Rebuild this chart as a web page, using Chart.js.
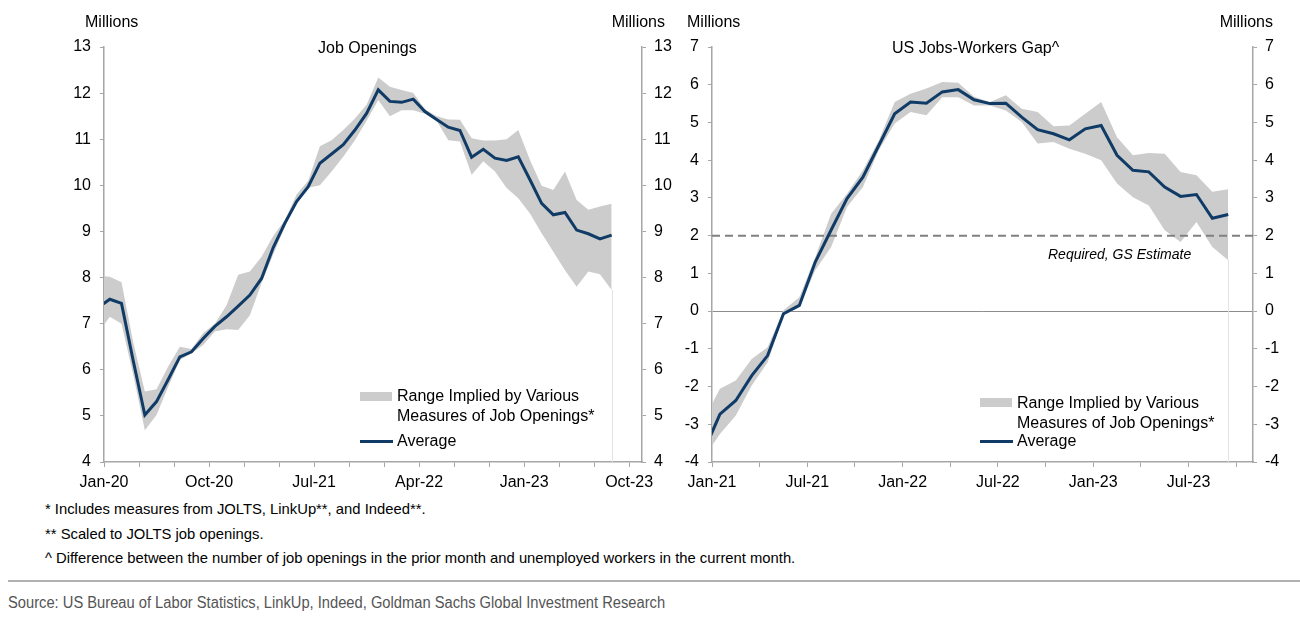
<!DOCTYPE html>
<html><head><meta charset="utf-8">
<script src="https://cdn.jsdelivr.net/npm/chart.js@4.4.0/dist/chart.umd.min.js"></script>
<style>
html,body{margin:0;padding:0;background:#fff;width:1300px;height:623px;overflow:hidden;font-family:"Liberation Sans",Arial,sans-serif;color:#000}
.t{position:absolute;white-space:nowrap;font-size:16px;height:18px;line-height:18px}
canvas{position:absolute;top:0}
.sw{position:absolute;background:#cccccc}
.ln{position:absolute;background:#0f3b66;height:3px}
.fn{position:absolute;white-space:nowrap;font-family:"Liberation Sans",Arial,sans-serif;font-size:14.8px;color:#000;height:18px;line-height:18px}
.src{position:absolute;white-space:nowrap;font-family:"Liberation Sans",Arial,sans-serif;font-size:16px;color:#555;height:20px;line-height:20px;transform-origin:0 50%}
.sep{position:absolute;left:8px;width:1292px;top:580px;height:2px;background:#b0b0b0}
</style></head>
<body>
<canvas id="c1" width="700" height="500" style="left:0"></canvas>
<canvas id="c2" width="640" height="500" style="left:660px"></canvas>

<div class="t" style="left:85px;top:13px">Millions</div>
<div class="t" style="right:635px;top:13px">Millions</div>
<div class="t" style="left:318px;top:39px">Job Openings</div>
<div class="t" style="left:687px;top:13px">Millions</div>
<div class="t" style="right:27px;top:13px">Millions</div>
<div class="t" style="left:892px;top:39px">US Jobs-Workers Gap^</div>

<div class="sw" style="left:360px;top:392px;width:32px;height:9px"></div>
<div class="t" style="left:397px;top:387px">Range Implied by Various</div>
<div class="t" style="left:397px;top:407px">Measures of Job Openings*</div>
<div class="ln" style="left:360px;top:440px;width:33px"></div>
<div class="t" style="left:397px;top:432px">Average</div>

<div class="sw" style="left:980px;top:398px;width:32px;height:9px"></div>
<div class="t" style="left:1017px;top:394px">Range Implied by Various</div>
<div class="t" style="left:1017px;top:414px">Measures of Job Openings*</div>
<div class="ln" style="left:980px;top:440px;width:33px"></div>
<div class="t" style="left:1017px;top:432px">Average</div>

<div class="t" style="left:1048px;top:245px;font-style:italic;font-size:14px">Required, GS Estimate</div>

<div class="fn" style="left:45px;top:500px">* Includes measures from JOLTS, LinkUp**, and Indeed**.</div>
<div class="fn" style="left:45px;top:525px">** Scaled to JOLTS job openings.</div>
<div class="fn" style="left:45px;top:549px">^ Difference between the number of job openings in the prior month and unemployed workers in the current month.</div>
<div class="sep"></div>
<div class="src" id="src" style="left:8px;top:593px">Source: US Bureau of Labor Statistics, LinkUp, Indeed, Goldman Sachs Global Investment Research</div>

<script>
// ---------- Left chart: Job Openings (monthly, Dec-19 .. Aug-23) ----------
const leftMonths = ['Dec-19','Jan-20','Feb-20','Mar-20','Apr-20','May-20','Jun-20','Jul-20','Aug-20','Sep-20','Oct-20','Nov-20','Dec-20',
  'Jan-21','Feb-21','Mar-21','Apr-21','May-21','Jun-21','Jul-21','Aug-21','Sep-21','Oct-21','Nov-21','Dec-21',
  'Jan-22','Feb-22','Mar-22','Apr-22','May-22','Jun-22','Jul-22','Aug-22','Sep-22','Oct-22','Nov-22','Dec-22',
  'Jan-23','Feb-23','Mar-23','Apr-23','May-23','Jun-23','Jul-23','Aug-23'];
const leftAverage = [7.35,7.53,7.44,6.2,5.02,5.31,5.79,6.28,6.39,6.68,6.94,7.15,7.38,
  7.62,7.98,8.65,9.18,9.65,9.97,10.48,10.68,10.88,11.2,11.56,12.07,
  11.82,11.8,11.87,11.6,11.43,11.26,11.19,10.61,10.78,10.59,10.54,10.62,
  10.12,9.61,9.36,9.41,9.03,8.95,8.84,8.92];
const leftUpper = [8.04,8.02,7.9,6.6,5.53,5.58,6.07,6.5,6.45,6.8,7.0,7.4,8.06,
  8.13,8.45,8.9,9.25,9.8,10.1,10.85,10.98,11.2,11.45,11.75,12.34,
  12.14,12.07,12.0,11.65,11.5,11.43,11.42,11.02,10.97,10.97,11.0,11.2,
  10.55,9.99,9.9,10.3,9.68,9.47,9.54,9.6];
const leftLower = [6.8,7.15,7.0,5.9,4.69,5.02,5.63,6.21,6.36,6.54,6.83,6.88,6.86,
  7.18,7.88,8.5,9.1,9.6,9.95,10.0,10.3,10.62,10.98,11.4,11.85,
  11.5,11.63,11.63,11.55,11.4,10.98,10.95,10.23,10.52,10.3,9.94,9.72,
  9.39,8.96,8.56,8.16,7.8,8.13,8.07,7.73];
const leftTickLabels = ['Jan-20','Oct-20','Jul-21','Apr-22','Jan-23','Oct-23'];

// ---------- Right chart: US Jobs-Workers Gap (monthly, Dec-20 .. Sep-23) ----------
const rightMonths = ['Dec-20','Jan-21','Feb-21','Mar-21','Apr-21','May-21','Jun-21','Jul-21','Aug-21','Sep-21','Oct-21','Nov-21','Dec-21',
  'Jan-22','Feb-22','Mar-22','Apr-22','May-22','Jun-22','Jul-22','Aug-22','Sep-22','Oct-22','Nov-22','Dec-22',
  'Jan-23','Feb-23','Mar-23','Apr-23','May-23','Jun-23','Jul-23','Aug-23','Sep-23'];
const rightAverage = [-3.7,-2.73,-2.37,-1.71,-1.18,-0.07,0.15,1.3,2.15,2.98,3.55,4.39,5.23,
  5.54,5.51,5.81,5.87,5.6,5.5,5.51,5.14,4.81,4.7,4.54,4.83,
  4.92,4.13,3.73,3.69,3.29,3.04,3.09,2.46,2.56];
const rightUpper = [-2.86,-2.06,-1.84,-1.27,-0.96,0.02,0.37,1.43,2.58,3.11,3.73,4.52,5.54,
  5.76,5.9,6.07,6.05,5.68,5.54,5.72,5.36,5.28,4.9,4.92,5.23,
  5.54,4.61,4.13,4.19,4.17,3.69,3.6,3.16,3.23];
const rightLower = [-3.88,-3.26,-2.77,-1.97,-1.36,-0.12,0.1,1.08,1.7,2.76,3.29,4.26,4.97,
  5.28,5.19,5.67,5.67,5.45,5.45,5.32,5.01,4.44,4.48,4.3,4.17,
  4.0,3.38,3.02,2.8,2.14,1.83,2.36,1.7,1.35];
const rightTickLabels = ['Jan-21','Jul-21','Jan-22','Jul-22','Jan-23','Jul-23'];
const requiredGap = 2;

const NAVY = '#0f3b66', BAND = '#cccccc', AXIS = '#a6a6a6';
const FONT = '"Liberation Sans", Arial, sans-serif';

// months are plotted at mid-month; the first category is the month before the axis start
function pts(vals){ return vals.map((v,i)=>({x:i-0.5, y:v})); }

const refLine = {
  id:'refLine',
  afterDatasetDraw(chart, args, opts){
    if (args.index !== 1) return;
    const {ctx, chartArea:a} = chart;
    // faint edge where the range area ends (last data point down to the axis)
    const lo = chart.getDatasetMeta(2).data;
    const last = lo[lo.length-1];
    ctx.save(); ctx.strokeStyle = '#e3e3e3'; ctx.lineWidth = 1;
    ctx.beginPath(); ctx.moveTo(Math.round(last.x)+0.5, last.y); ctx.lineTo(Math.round(last.x)+0.5, a.bottom); ctx.stroke();
    ctx.restore();
    if (opts.value == null) return;
    const y = chart.scales.y.getPixelForValue(opts.value);
    ctx.save(); ctx.setLineDash([8,5]); ctx.strokeStyle = '#808080'; ctx.lineWidth = 2;
    ctx.beginPath(); ctx.moveTo(a.left, y); ctx.lineTo(a.right, y); ctx.stroke(); ctx.restore();
  }
};

function makeChart(id, cfg){
  const yCommon = (pos, w, pad) => ({
    position: pos, min: cfg.yMin, max: cfg.yMax,
    afterFit(s){ s.width = w; },
    ticks:{stepSize:1, color:'#000', font:{size:16, family:FONT}, padding:pad},
    grid:{drawOnChartArea: pos==='left' && cfg.zeroLine, tickLength:4, tickColor:AXIS,
          color: c => (c.tick && c.tick.value===0) ? '#8c8c8c' : 'rgba(0,0,0,0)', lineWidth:1},
    border:{color:AXIS, width:1.5}
  });
  return new Chart(document.getElementById(id), {
    type:'line',
    data:{datasets:[
      {label:'Average', data:pts(cfg.avg), borderColor:NAVY, borderWidth:3, pointRadius:0, tension:0, fill:false, order:0},
      {label:'Upper', data:pts(cfg.up), borderColor:'rgba(0,0,0,0)', borderWidth:0, pointRadius:0, tension:0, fill:'+1', backgroundColor:BAND, order:1},
      {label:'Lower', data:pts(cfg.lo), borderColor:'rgba(0,0,0,0)', borderWidth:0, pointRadius:0, tension:0, fill:false, order:2}
    ]},
    options:{
      responsive:false, animation:false, events:[],
      layout:{padding:{top:47, left:0, right:0, bottom:0}},
      plugins:{legend:{display:false}, tooltip:{enabled:false}, refLine:{value:cfg.ref}},
      scales:{
        x:{type:'linear', min:0, max:cfg.xMax,
           afterFit(s){ s.height = 38; },
           ticks:{stepSize:3, includeBounds:false, autoSkip:false, maxRotation:0, color:'#000',
                  font:{size:16, family:FONT}, padding:6,
                  callback:(v)=> (v % cfg.labelEvery === 0) ? cfg.tickLabels[v/cfg.labelEvery] : ''},
           grid:{drawOnChartArea:false, tickLength:5, tickColor:AXIS, color:AXIS},
           border:{color:AXIS, width:1.5}},
        y: yCommon('left', cfg.yW, 9),
        y2: yCommon('right', cfg.y2W, 8)
      }
    },
    plugins:[refLine]
  });
}

makeChart('c1', {avg:leftAverage, up:leftUpper, lo:leftLower, tickLabels:leftTickLabels, labelEvery:9,
  xMax:46.1, yMin:4, yMax:13, yW:104, y2W:58, zeroLine:false, ref:null});
makeChart('c2', {avg:rightAverage, up:rightUpper, lo:rightLower, tickLabels:rightTickLabels, labelEvery:6,
  xMax:34.06, yMin:-4, yMax:7, yW:52, y2W:47, zeroLine:true, ref:requiredGap});

// condensed source line: squeeze to the reference width
const src = document.getElementById('src');
src.style.transform = 'scaleX(' + (657 / src.getBoundingClientRect().width).toFixed(3) + ')';
</script>
</body></html>
